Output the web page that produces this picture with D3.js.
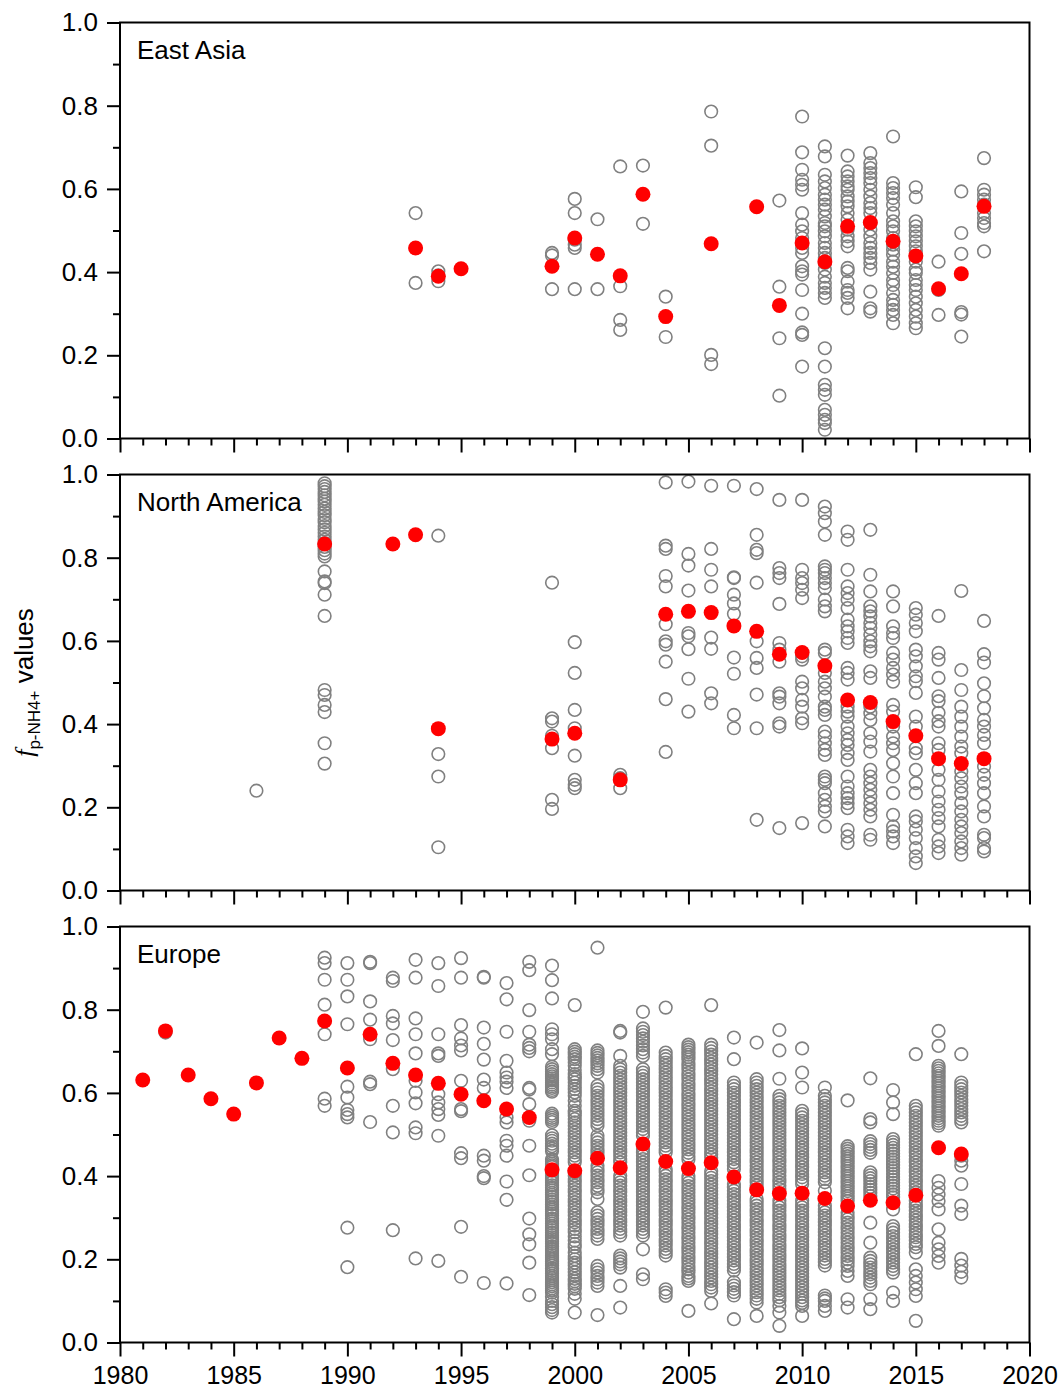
<!DOCTYPE html>
<html>
<head>
<meta charset="utf-8">
<script src="https://cdn.jsdelivr.net/npm/d3@7"></script>
<style>
  html, body { margin: 0; padding: 0; background: #fff; }
  svg { display: block; font-family: "Liberation Sans", Arial, sans-serif; }
</style>
</head>
<body>
<svg id="chart" width="1062" height="1391"></svg>
<script>
// ---- data: per-region annual observations (grey) and annual means (red) ----
const regionNames = ["East Asia", "North America", "Europe"];

const eastAsiaMeanYears = [1993, 1994, 1995, 1999, 2000, 2001, 2002, 2003, 2004, 2006, 2008, 2009, 2010, 2011, 2012, 2013, 2014, 2015, 2016, 2017, 2018];
const eastAsiaMeans     = [0.458, 0.390, 0.408, 0.414, 0.482, 0.443, 0.391, 0.587, 0.293, 0.468, 0.557, 0.320, 0.470, 0.425, 0.510, 0.519, 0.474, 0.439, 0.360, 0.396, 0.558];

const eastAsiaObs = [
  [1993, [0.542, 0.374]],
  [1994, [0.402, 0.392, 0.378]],
  [1999, [0.446, 0.440, 0.359]],
  [2000, [0.576, 0.542, 0.478, 0.466, 0.458, 0.359]],
  [2001, [0.527, 0.359]],
  [2002, [0.654, 0.366, 0.285, 0.261]],
  [2003, [0.656, 0.516]],
  [2004, [0.341, 0.244]],
  [2006, [0.786, 0.704, 0.201, 0.179]],
  [2009, [0.572, 0.365, 0.241, 0.103]],
  [2010, [0.774, 0.688, 0.646, 0.622, 0.610, 0.598, 0.542, 0.514, 0.498, 0.482, 0.470, 0.458, 0.446, 0.414, 0.402, 0.394, 0.357, 0.300, 0.255, 0.249, 0.173]],
  [2011, [0.702, 0.678, 0.634, 0.618, 0.602, 0.586, 0.574, 0.562, 0.550, 0.534, 0.518, 0.510, 0.498, 0.486, 0.470, 0.458, 0.446, 0.434, 0.422, 0.406, 0.389, 0.374, 0.362, 0.350, 0.338, 0.217, 0.173, 0.129, 0.117, 0.105, 0.069, 0.057, 0.045, 0.037, 0.021]],
  [2012, [0.680, 0.642, 0.630, 0.618, 0.606, 0.598, 0.582, 0.570, 0.558, 0.542, 0.526, 0.502, 0.486, 0.474, 0.462, 0.410, 0.402, 0.377, 0.357, 0.350, 0.338, 0.313]],
  [2013, [0.686, 0.662, 0.650, 0.638, 0.626, 0.614, 0.598, 0.582, 0.566, 0.554, 0.542, 0.518, 0.502, 0.486, 0.470, 0.458, 0.446, 0.434, 0.422, 0.406, 0.353, 0.313, 0.305]],
  [2014, [0.726, 0.614, 0.602, 0.590, 0.578, 0.562, 0.542, 0.522, 0.510, 0.498, 0.482, 0.466, 0.454, 0.442, 0.425, 0.413, 0.398, 0.381, 0.369, 0.350, 0.333, 0.321, 0.309, 0.297, 0.277]],
  [2015, [0.604, 0.580, 0.522, 0.510, 0.498, 0.486, 0.474, 0.462, 0.450, 0.438, 0.425, 0.406, 0.398, 0.381, 0.369, 0.357, 0.341, 0.325, 0.309, 0.293, 0.277, 0.265]],
  [2016, [0.425, 0.357, 0.297]],
  [2017, [0.594, 0.494, 0.444, 0.304, 0.298, 0.245]],
  [2018, [0.674, 0.598, 0.586, 0.574, 0.562, 0.542, 0.530, 0.518, 0.510, 0.450]]
];

const northAmericaMeanYears = [1989, 1992, 1993, 1994, 1999, 2000, 2002, 2004, 2005, 2006, 2007, 2008, 2009, 2010, 2011, 2012, 2013, 2014, 2015, 2016, 2017, 2018];
const northAmericaMeans     = [0.833, 0.833, 0.855, 0.389, 0.364, 0.378, 0.266, 0.664, 0.671, 0.668, 0.636, 0.623, 0.568, 0.572, 0.540, 0.458, 0.452, 0.406, 0.372, 0.317, 0.305, 0.317];

const northAmericaObs = [
  [1986, [0.240]],
  [1989, [0.979, 0.972, 0.965, 0.958, 0.950, 0.942, 0.935, 0.927, 0.918, 0.910, 0.902, 0.893, 0.885, 0.876, 0.868, 0.860, 0.851, 0.843, 0.835, 0.826, 0.818, 0.810, 0.803, 0.767, 0.743, 0.739, 0.711, 0.660, 0.482, 0.470, 0.446, 0.429, 0.354, 0.305]],
  [1994, [0.853, 0.328, 0.274, 0.104]],
  [1999, [0.740, 0.414, 0.406, 0.372, 0.342, 0.218, 0.196]],
  [2000, [0.597, 0.523, 0.434, 0.390, 0.324, 0.266, 0.254, 0.246]],
  [2002, [0.278, 0.270, 0.246]],
  [2004, [0.981, 0.829, 0.821, 0.756, 0.731, 0.640, 0.599, 0.591, 0.550, 0.460, 0.333]],
  [2005, [0.983, 0.809, 0.781, 0.721, 0.619, 0.611, 0.580, 0.509, 0.430]],
  [2006, [0.973, 0.821, 0.771, 0.731, 0.608, 0.581, 0.474, 0.450]],
  [2007, [0.973, 0.753, 0.751, 0.711, 0.690, 0.665, 0.560, 0.521, 0.422, 0.390]],
  [2008, [0.965, 0.855, 0.819, 0.811, 0.740, 0.599, 0.559, 0.535, 0.471, 0.390, 0.170]],
  [2009, [0.939, 0.775, 0.763, 0.751, 0.689, 0.595, 0.579, 0.550, 0.474, 0.466, 0.450, 0.402, 0.394, 0.150]],
  [2010, [0.939, 0.771, 0.751, 0.739, 0.723, 0.703, 0.563, 0.555, 0.502, 0.486, 0.458, 0.442, 0.414, 0.402, 0.162]],
  [2011, [0.923, 0.907, 0.887, 0.855, 0.779, 0.771, 0.763, 0.751, 0.739, 0.727, 0.699, 0.683, 0.671, 0.579, 0.571, 0.523, 0.502, 0.486, 0.466, 0.442, 0.434, 0.422, 0.382, 0.370, 0.354, 0.338, 0.326, 0.274, 0.266, 0.258, 0.234, 0.218, 0.202, 0.190, 0.154]],
  [2012, [0.863, 0.843, 0.771, 0.731, 0.715, 0.699, 0.679, 0.651, 0.635, 0.623, 0.607, 0.595, 0.535, 0.523, 0.507, 0.442, 0.430, 0.418, 0.394, 0.378, 0.362, 0.350, 0.330, 0.314, 0.274, 0.250, 0.234, 0.222, 0.210, 0.198, 0.146, 0.130, 0.114]],
  [2013, [0.867, 0.759, 0.719, 0.683, 0.671, 0.659, 0.643, 0.631, 0.615, 0.599, 0.587, 0.575, 0.527, 0.511, 0.442, 0.426, 0.410, 0.378, 0.358, 0.334, 0.290, 0.274, 0.258, 0.242, 0.226, 0.210, 0.194, 0.178, 0.134, 0.122]],
  [2014, [0.719, 0.683, 0.635, 0.619, 0.607, 0.571, 0.555, 0.535, 0.519, 0.502, 0.446, 0.430, 0.394, 0.370, 0.354, 0.338, 0.306, 0.274, 0.234, 0.182, 0.154, 0.142, 0.130, 0.114]],
  [2015, [0.679, 0.663, 0.643, 0.623, 0.579, 0.563, 0.539, 0.515, 0.503, 0.475, 0.418, 0.394, 0.342, 0.330, 0.290, 0.258, 0.234, 0.178, 0.166, 0.146, 0.126, 0.102, 0.082, 0.066]],
  [2016, [0.660, 0.571, 0.555, 0.511, 0.467, 0.455, 0.427, 0.407, 0.394, 0.354, 0.338, 0.290, 0.266, 0.238, 0.214, 0.194, 0.174, 0.154, 0.122, 0.106, 0.090]],
  [2017, [0.720, 0.530, 0.482, 0.442, 0.418, 0.394, 0.370, 0.346, 0.330, 0.286, 0.270, 0.250, 0.234, 0.210, 0.190, 0.170, 0.154, 0.138, 0.118, 0.102, 0.086]],
  [2018, [0.648, 0.568, 0.548, 0.498, 0.467, 0.438, 0.410, 0.394, 0.374, 0.354, 0.298, 0.278, 0.258, 0.234, 0.202, 0.178, 0.134, 0.126, 0.102, 0.094]]
];

const europeMeanYears = [1981, 1982, 1983, 1984, 1985, 1986, 1987, 1988, 1989, 1990, 1991, 1992, 1993, 1994, 1995, 1996, 1997, 1998, 1999, 2000, 2001, 2002, 2003, 2004, 2005, 2006, 2007, 2008, 2009, 2010, 2011, 2012, 2013, 2014, 2015, 2016, 2017];
const europeMeans     = [0.631, 0.749, 0.643, 0.586, 0.549, 0.624, 0.732, 0.683, 0.773, 0.660, 0.741, 0.671, 0.643, 0.623, 0.597, 0.581, 0.561, 0.541, 0.415, 0.413, 0.443, 0.420, 0.477, 0.435, 0.418, 0.432, 0.398, 0.367, 0.358, 0.359, 0.346, 0.328, 0.342, 0.336, 0.354, 0.468, 0.453];

const europeObs = [
  [1982, [0.745]],
  [1989, [0.925, 0.912, 0.872, 0.812, 0.741, 0.586, 0.569]],
  [1990, [0.912, 0.872, 0.832, 0.765, 0.615, 0.589, 0.559, 0.549, 0.541, 0.276, 0.181]],
  [1991, [0.915, 0.912, 0.820, 0.776, 0.729, 0.627, 0.621, 0.530]],
  [1992, [0.877, 0.869, 0.785, 0.767, 0.727, 0.657, 0.569, 0.505, 0.270]],
  [1993, [0.920, 0.877, 0.779, 0.741, 0.695, 0.629, 0.601, 0.575, 0.517, 0.503, 0.202]],
  [1994, [0.912, 0.857, 0.741, 0.695, 0.689, 0.597, 0.577, 0.561, 0.547, 0.497, 0.196]],
  [1995, [0.924, 0.877, 0.763, 0.731, 0.714, 0.702, 0.629, 0.561, 0.556, 0.455, 0.443, 0.278, 0.158]],
  [1996, [0.879, 0.877, 0.757, 0.718, 0.680, 0.632, 0.612, 0.449, 0.437, 0.400, 0.395, 0.143]],
  [1997, [0.864, 0.825, 0.747, 0.677, 0.649, 0.637, 0.627, 0.612, 0.541, 0.529, 0.485, 0.473, 0.449, 0.387, 0.343, 0.142]],
  [1998, [0.915, 0.895, 0.799, 0.747, 0.716, 0.708, 0.700, 0.612, 0.608, 0.573, 0.533, 0.473, 0.402, 0.298, 0.260, 0.236, 0.192, 0.114]],
  [1999, [0.906, 0.871, 0.827, 0.753, 0.741, 0.729, 0.705, 0.693, 0.663, 0.657, 0.651, 0.645, 0.640, 0.635, 0.630, 0.625, 0.620, 0.616, 0.612, 0.607, 0.603, 0.550, 0.545, 0.540, 0.535, 0.530, 0.498, 0.491, 0.485, 0.478, 0.472, 0.466, 0.460, 0.440, 0.435, 0.430, 0.426, 0.422, 0.413, 0.405, 0.400, 0.395, 0.390, 0.385, 0.378, 0.372, 0.366, 0.360, 0.355, 0.350, 0.344, 0.338, 0.332, 0.325, 0.320, 0.315, 0.310, 0.305, 0.298, 0.292, 0.286, 0.280, 0.275, 0.270, 0.264, 0.258, 0.253, 0.248, 0.243, 0.238, 0.231, 0.225, 0.220, 0.215, 0.210, 0.205, 0.200, 0.195, 0.190, 0.185, 0.178, 0.172, 0.166, 0.160, 0.155, 0.150, 0.145, 0.140, 0.135, 0.130, 0.125, 0.120, 0.110, 0.100, 0.092, 0.085, 0.078, 0.072]],
  [2000, [0.811, 0.705, 0.699, 0.693, 0.687, 0.681, 0.673, 0.665, 0.655, 0.645, 0.639, 0.633, 0.625, 0.617, 0.609, 0.601, 0.593, 0.581, 0.569, 0.557, 0.551, 0.545, 0.537, 0.529, 0.521, 0.513, 0.505, 0.497, 0.489, 0.481, 0.473, 0.465, 0.457, 0.449, 0.441, 0.433, 0.409, 0.401, 0.393, 0.385, 0.377, 0.369, 0.361, 0.353, 0.345, 0.337, 0.329, 0.321, 0.313, 0.305, 0.297, 0.289, 0.281, 0.273, 0.265, 0.255, 0.245, 0.237, 0.229, 0.216, 0.208, 0.200, 0.192, 0.185, 0.177, 0.169, 0.161, 0.153, 0.147, 0.141, 0.135, 0.129, 0.117, 0.105, 0.072]],
  [2001, [0.949, 0.702, 0.696, 0.690, 0.684, 0.678, 0.671, 0.665, 0.657, 0.649, 0.617, 0.609, 0.601, 0.593, 0.585, 0.577, 0.569, 0.561, 0.553, 0.545, 0.537, 0.529, 0.521, 0.497, 0.489, 0.481, 0.473, 0.465, 0.457, 0.449, 0.425, 0.417, 0.409, 0.401, 0.393, 0.385, 0.377, 0.369, 0.361, 0.345, 0.313, 0.305, 0.297, 0.289, 0.281, 0.273, 0.265, 0.257, 0.249, 0.184, 0.176, 0.168, 0.160, 0.152, 0.144, 0.136, 0.066]],
  [2002, [0.749, 0.745, 0.689, 0.665, 0.657, 0.649, 0.641, 0.633, 0.625, 0.617, 0.609, 0.601, 0.593, 0.585, 0.577, 0.569, 0.561, 0.553, 0.545, 0.537, 0.529, 0.521, 0.513, 0.505, 0.497, 0.489, 0.481, 0.473, 0.465, 0.457, 0.449, 0.441, 0.433, 0.401, 0.393, 0.385, 0.377, 0.369, 0.361, 0.353, 0.345, 0.337, 0.329, 0.321, 0.313, 0.305, 0.297, 0.289, 0.281, 0.273, 0.265, 0.257, 0.209, 0.202, 0.195, 0.188, 0.180, 0.136, 0.084]],
  [2003, [0.795, 0.755, 0.747, 0.739, 0.731, 0.723, 0.714, 0.705, 0.697, 0.689, 0.657, 0.649, 0.641, 0.633, 0.625, 0.617, 0.609, 0.601, 0.593, 0.585, 0.577, 0.569, 0.561, 0.553, 0.545, 0.537, 0.529, 0.521, 0.513, 0.505, 0.497, 0.465, 0.457, 0.449, 0.441, 0.433, 0.425, 0.417, 0.409, 0.401, 0.393, 0.385, 0.377, 0.369, 0.361, 0.353, 0.345, 0.337, 0.329, 0.321, 0.313, 0.305, 0.297, 0.289, 0.281, 0.273, 0.265, 0.257, 0.224, 0.164, 0.152]],
  [2004, [0.805, 0.697, 0.689, 0.681, 0.673, 0.665, 0.657, 0.649, 0.641, 0.633, 0.625, 0.617, 0.609, 0.601, 0.593, 0.585, 0.577, 0.569, 0.561, 0.553, 0.545, 0.537, 0.529, 0.521, 0.513, 0.505, 0.497, 0.489, 0.481, 0.473, 0.465, 0.457, 0.417, 0.409, 0.401, 0.393, 0.385, 0.377, 0.369, 0.361, 0.353, 0.345, 0.337, 0.329, 0.321, 0.313, 0.305, 0.297, 0.289, 0.281, 0.273, 0.265, 0.257, 0.249, 0.241, 0.233, 0.225, 0.217, 0.209, 0.128, 0.120, 0.112]],
  [2005, [0.716, 0.710, 0.704, 0.698, 0.692, 0.686, 0.680, 0.672, 0.664, 0.656, 0.648, 0.640, 0.632, 0.624, 0.616, 0.608, 0.600, 0.592, 0.584, 0.576, 0.568, 0.560, 0.552, 0.544, 0.536, 0.528, 0.520, 0.512, 0.504, 0.496, 0.488, 0.480, 0.472, 0.464, 0.456, 0.448, 0.440, 0.400, 0.392, 0.384, 0.376, 0.368, 0.360, 0.352, 0.344, 0.336, 0.328, 0.320, 0.312, 0.304, 0.296, 0.288, 0.280, 0.272, 0.264, 0.256, 0.248, 0.240, 0.232, 0.224, 0.216, 0.208, 0.200, 0.192, 0.184, 0.176, 0.168, 0.160, 0.154, 0.148, 0.076]],
  [2006, [0.811, 0.716, 0.708, 0.700, 0.692, 0.684, 0.676, 0.668, 0.660, 0.652, 0.644, 0.636, 0.628, 0.620, 0.612, 0.604, 0.596, 0.588, 0.580, 0.572, 0.564, 0.556, 0.548, 0.540, 0.532, 0.524, 0.516, 0.508, 0.500, 0.492, 0.484, 0.476, 0.468, 0.460, 0.452, 0.444, 0.412, 0.404, 0.396, 0.388, 0.380, 0.372, 0.364, 0.356, 0.348, 0.340, 0.332, 0.324, 0.316, 0.308, 0.300, 0.292, 0.284, 0.276, 0.268, 0.260, 0.252, 0.244, 0.236, 0.228, 0.220, 0.212, 0.204, 0.196, 0.188, 0.180, 0.172, 0.164, 0.156, 0.148, 0.140, 0.132, 0.124, 0.094]],
  [2007, [0.733, 0.681, 0.625, 0.617, 0.609, 0.601, 0.593, 0.585, 0.577, 0.569, 0.561, 0.553, 0.545, 0.537, 0.529, 0.521, 0.513, 0.505, 0.497, 0.489, 0.481, 0.473, 0.465, 0.457, 0.449, 0.441, 0.433, 0.425, 0.417, 0.381, 0.373, 0.365, 0.357, 0.349, 0.341, 0.333, 0.325, 0.317, 0.309, 0.301, 0.293, 0.285, 0.277, 0.269, 0.261, 0.253, 0.245, 0.237, 0.229, 0.221, 0.213, 0.205, 0.197, 0.189, 0.181, 0.173, 0.145, 0.137, 0.129, 0.121, 0.113, 0.056]],
  [2008, [0.721, 0.633, 0.625, 0.617, 0.609, 0.601, 0.593, 0.585, 0.577, 0.569, 0.561, 0.553, 0.545, 0.537, 0.529, 0.521, 0.513, 0.505, 0.497, 0.489, 0.481, 0.473, 0.465, 0.457, 0.449, 0.441, 0.433, 0.425, 0.417, 0.409, 0.401, 0.393, 0.385, 0.377, 0.345, 0.337, 0.329, 0.321, 0.313, 0.305, 0.297, 0.289, 0.281, 0.273, 0.265, 0.257, 0.249, 0.241, 0.233, 0.225, 0.217, 0.209, 0.201, 0.193, 0.185, 0.177, 0.169, 0.161, 0.153, 0.145, 0.137, 0.129, 0.121, 0.113, 0.105, 0.096, 0.064]],
  [2009, [0.751, 0.702, 0.634, 0.593, 0.585, 0.577, 0.569, 0.561, 0.553, 0.545, 0.537, 0.529, 0.521, 0.513, 0.505, 0.497, 0.489, 0.481, 0.473, 0.465, 0.457, 0.449, 0.441, 0.433, 0.425, 0.417, 0.409, 0.401, 0.393, 0.385, 0.377, 0.369, 0.341, 0.333, 0.325, 0.317, 0.309, 0.301, 0.293, 0.285, 0.277, 0.269, 0.261, 0.253, 0.245, 0.237, 0.229, 0.221, 0.213, 0.205, 0.197, 0.189, 0.181, 0.173, 0.165, 0.157, 0.149, 0.141, 0.133, 0.125, 0.117, 0.109, 0.101, 0.088, 0.072, 0.040]],
  [2010, [0.707, 0.649, 0.613, 0.557, 0.549, 0.541, 0.533, 0.525, 0.517, 0.509, 0.501, 0.493, 0.485, 0.477, 0.469, 0.461, 0.453, 0.445, 0.437, 0.429, 0.421, 0.413, 0.405, 0.397, 0.389, 0.381, 0.341, 0.333, 0.325, 0.317, 0.309, 0.301, 0.293, 0.285, 0.277, 0.269, 0.261, 0.253, 0.245, 0.237, 0.229, 0.221, 0.213, 0.205, 0.197, 0.189, 0.181, 0.173, 0.165, 0.157, 0.149, 0.141, 0.133, 0.125, 0.117, 0.109, 0.101, 0.095, 0.088, 0.064]],
  [2011, [0.613, 0.593, 0.585, 0.577, 0.569, 0.561, 0.553, 0.545, 0.537, 0.529, 0.521, 0.513, 0.505, 0.497, 0.489, 0.481, 0.473, 0.465, 0.457, 0.449, 0.441, 0.433, 0.425, 0.417, 0.409, 0.401, 0.393, 0.385, 0.365, 0.329, 0.321, 0.313, 0.305, 0.297, 0.289, 0.281, 0.273, 0.265, 0.257, 0.249, 0.241, 0.233, 0.225, 0.217, 0.209, 0.201, 0.193, 0.185, 0.113, 0.106, 0.100, 0.088, 0.076]],
  [2012, [0.582, 0.472, 0.466, 0.460, 0.454, 0.448, 0.442, 0.436, 0.430, 0.424, 0.418, 0.412, 0.406, 0.400, 0.394, 0.388, 0.382, 0.376, 0.370, 0.364, 0.358, 0.352, 0.346, 0.340, 0.312, 0.304, 0.296, 0.288, 0.280, 0.272, 0.264, 0.256, 0.248, 0.240, 0.232, 0.224, 0.216, 0.208, 0.200, 0.192, 0.184, 0.172, 0.160, 0.104, 0.084]],
  [2013, [0.635, 0.537, 0.529, 0.484, 0.477, 0.470, 0.463, 0.456, 0.409, 0.402, 0.395, 0.388, 0.381, 0.374, 0.367, 0.360, 0.352, 0.288, 0.240, 0.204, 0.196, 0.188, 0.180, 0.172, 0.164, 0.156, 0.148, 0.140, 0.104, 0.080]],
  [2014, [0.607, 0.577, 0.549, 0.489, 0.482, 0.475, 0.468, 0.461, 0.454, 0.447, 0.440, 0.433, 0.426, 0.419, 0.412, 0.405, 0.398, 0.391, 0.384, 0.377, 0.370, 0.363, 0.356, 0.349, 0.320, 0.280, 0.272, 0.264, 0.256, 0.248, 0.240, 0.232, 0.224, 0.216, 0.208, 0.200, 0.192, 0.184, 0.176, 0.168, 0.120, 0.100]],
  [2015, [0.693, 0.569, 0.561, 0.553, 0.545, 0.537, 0.529, 0.521, 0.513, 0.505, 0.497, 0.489, 0.481, 0.473, 0.465, 0.457, 0.449, 0.441, 0.433, 0.425, 0.417, 0.409, 0.401, 0.393, 0.385, 0.377, 0.369, 0.361, 0.341, 0.333, 0.325, 0.317, 0.309, 0.301, 0.293, 0.285, 0.277, 0.269, 0.261, 0.253, 0.245, 0.237, 0.229, 0.216, 0.176, 0.160, 0.144, 0.128, 0.112, 0.052]],
  [2016, [0.749, 0.713, 0.665, 0.659, 0.653, 0.647, 0.641, 0.635, 0.629, 0.623, 0.617, 0.611, 0.605, 0.599, 0.593, 0.587, 0.581, 0.575, 0.569, 0.563, 0.557, 0.551, 0.545, 0.539, 0.533, 0.527, 0.521, 0.388, 0.372, 0.356, 0.340, 0.320, 0.272, 0.240, 0.224, 0.208, 0.192]],
  [2017, [0.693, 0.625, 0.617, 0.609, 0.601, 0.593, 0.585, 0.577, 0.569, 0.561, 0.553, 0.545, 0.537, 0.529, 0.449, 0.437, 0.425, 0.381, 0.329, 0.309, 0.201, 0.185, 0.170, 0.156]]
];

const yTickValues = [0, 0.2, 0.4, 0.6, 0.8, 1.0];
const yMinorValues = [0.1, 0.3, 0.5, 0.7, 0.9];
const xTickValues = [1980, 1985, 1990, 1995, 2000, 2005, 2010, 2015, 2020];
const xMinorValues = d3.range(1980, 2021);

// ---- layout ----
const svg = d3.select("#chart");
const left = 120, right = 1029.5;
const panelTops = [22.5, 474.5, 926.5];
const panelH = 416;
const tickFont = "Liberation Sans, Arial, sans-serif";

const x = d3.scaleLinear().domain([1980, 2020]).range([left, right]);

const panels = [
  { name: regionNames[0], obs: eastAsiaObs, years: eastAsiaMeanYears, means: eastAsiaMeans },
  { name: regionNames[1], obs: northAmericaObs, years: northAmericaMeanYears, means: northAmericaMeans },
  { name: regionNames[2], obs: europeObs, years: europeMeanYears, means: europeMeans }
];

panels.forEach((p, i) => {
  const top = panelTops[i];
  const y = d3.scaleLinear().domain([0, 1]).range([top + panelH, top]);
  const g = svg.append("g");

  // observations: open grey circles
  const pts = [];
  p.obs.forEach(([yr, vals]) => vals.forEach(v => pts.push([yr, v])));
  g.append("g").selectAll("circle").data(pts).join("circle")
    .attr("cx", d => x(d[0])).attr("cy", d => y(d[1]))
    .attr("r", 6.3)
    .attr("fill", "none").attr("stroke", "#808080").attr("stroke-width", 1.6);

  // annual means: solid red dots
  g.append("g").selectAll("circle").data(p.years.map((yr, k) => [yr, p.means[k]])).join("circle")
    .attr("cx", d => x(d[0])).attr("cy", d => y(d[1]))
    .attr("r", 7.5).attr("fill", "#ff0000");

  // y axis: major + minor ticks, outward
  const yAx = g.append("g").attr("transform", `translate(${left},0)`)
    .call(d3.axisLeft(y).tickValues(yTickValues).tickFormat(d3.format(".1f")).tickSize(13).tickPadding(9));
  yAx.select(".domain").remove();
  yAx.selectAll("text").attr("font-size", 26).attr("fill", "#000").attr("font-family", tickFont);
  yAx.selectAll("line").attr("stroke-width", 2);
  const yMin = g.append("g").attr("transform", `translate(${left},0)`)
    .call(d3.axisLeft(y).tickValues(yMinorValues).tickFormat("").tickSize(7));
  yMin.select(".domain").remove();
  yMin.selectAll("line").attr("stroke-width", 2);

  // x axis: major + minor ticks, downward
  const xAx = g.append("g").attr("transform", `translate(0,${top + panelH})`)
    .call(d3.axisBottom(x).tickValues(xTickValues).tickFormat(i === 2 ? d3.format("d") : "").tickSize(14).tickPadding(10));
  xAx.select(".domain").remove();
  xAx.selectAll("text").attr("font-size", 25).attr("fill", "#000").attr("font-family", tickFont);
  xAx.selectAll("line").attr("stroke-width", 2);
  const xMin = g.append("g").attr("transform", `translate(0,${top + panelH})`)
    .call(d3.axisBottom(x).tickValues(xMinorValues.filter(v => v % 5 !== 0)).tickFormat("").tickSize(7));
  xMin.select(".domain").remove();
  xMin.selectAll("line").attr("stroke-width", 2);

  // frame
  g.append("rect").attr("x", left).attr("y", top).attr("width", right - left).attr("height", panelH)
    .attr("fill", "none").attr("stroke", "#000").attr("stroke-width", 2);

  // region label
  g.append("text").attr("x", 137).attr("y", top + 36.5)
    .attr("font-size", 26).attr("fill", "#000").text(p.name);
});

// y axis title
const title = svg.append("text")
  .attr("transform", `translate(33,${panelTops[1] + panelH / 2}) rotate(-90)`)
  .attr("text-anchor", "middle").attr("font-size", 26).attr("fill", "#000");
title.append("tspan").attr("font-family", "Liberation Serif, Times New Roman, serif").attr("font-style", "italic").text("f");
title.append("tspan").attr("font-size", 17).attr("dy", 7).text("p-NH4+");
title.append("tspan").attr("dy", -7).text(" values");
</script>
</body>
</html>
